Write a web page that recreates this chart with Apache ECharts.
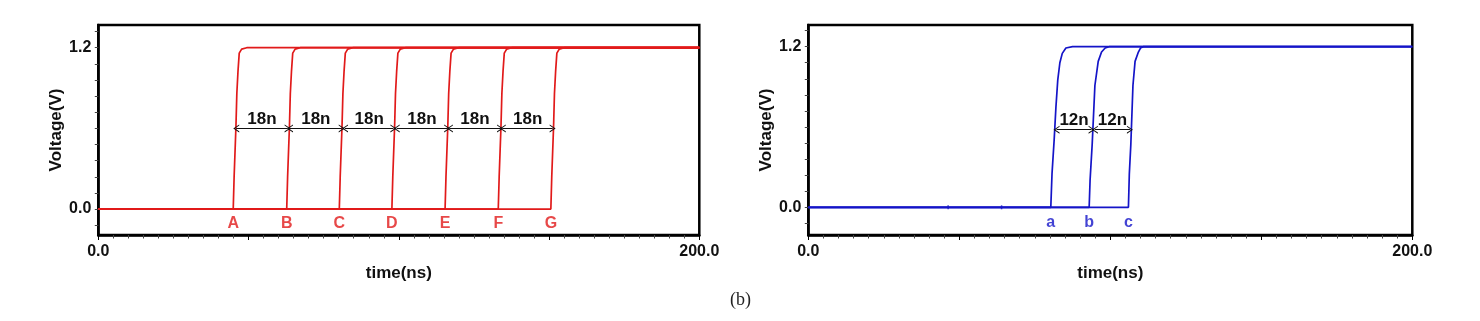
<!DOCTYPE html>
<html>
<head>
<meta charset="utf-8">
<script src="https://cdn.jsdelivr.net/npm/echarts@6/dist/echarts.min.js"></script>
<style>
  html, body { margin: 0; padding: 0; background: #fff; }
  #chart { width: 1480px; height: 321px; }
</style>
</head>
<body>
<div id="chart"></div>
<script>
// red traces (left panel), time in ns, voltage in V
const edgeA = [[0, 0], [44.9, 0], [45.2, 0.24], [45.8, 0.61], [46.1, 0.86], [46.5, 1.03], [46.9, 1.16], [47.7, 1.19], [49.4, 1.2], [200, 1.2]]
const edgeB = [[0, 0], [62.7, 0], [63.0, 0.24], [63.6, 0.61], [63.9, 0.86], [64.3, 1.03], [64.7, 1.16], [65.5, 1.19], [67.2, 1.2], [200, 1.2]]
const edgeC = [[0, 0], [80.2, 0], [80.5, 0.24], [81.1, 0.61], [81.4, 0.86], [81.8, 1.03], [82.2, 1.16], [83.0, 1.19], [84.7, 1.2], [200, 1.2]]
const edgeD = [[0, 0], [97.7, 0], [98.0, 0.24], [98.6, 0.61], [98.9, 0.86], [99.3, 1.03], [99.7, 1.16], [100.5, 1.19], [102.2, 1.2], [200, 1.2]]
const edgeE = [[0, 0], [115.4, 0], [115.7, 0.24], [116.3, 0.61], [116.6, 0.86], [117.0, 1.03], [117.4, 1.16], [118.2, 1.19], [119.9, 1.2], [200, 1.2]]
const edgeF = [[0, 0], [133.1, 0], [133.4, 0.24], [134.0, 0.61], [134.3, 0.86], [134.7, 1.03], [135.1, 1.16], [135.9, 1.19], [137.6, 1.2], [200, 1.2]]
const edgeG = [[0, 0], [150.6, 0], [150.9, 0.24], [151.5, 0.61], [151.8, 0.86], [152.2, 1.03], [152.6, 1.16], [153.4, 1.19], [155.1, 1.2], [200, 1.2]]

// blue traces (right panel)
const edge_a = [[0, 0], [80.3, 0], [80.7, 0.25], [81.4, 0.5], [82.0, 0.75], [82.6, 0.95], [83.3, 1.08], [84.1, 1.15], [85.3, 1.19], [87.5, 1.2], [200, 1.2]]
const edge_b = [[0, 0], [93.0, 0], [93.3, 0.2], [94.0, 0.47], [94.9, 0.91], [96.0, 1.09], [97.1, 1.16], [98.3, 1.19], [99.6, 1.2], [200, 1.2]]
const edge_c = [[0, 0], [106.0, 0], [106.3, 0.25], [106.8, 0.47], [107.5, 0.91], [108.2, 1.09], [109.3, 1.16], [110.0, 1.19], [110.9, 1.2], [200, 1.2]]
// little glitch marks on the blue baseline
const blueGlitches = [46.3, 64.0]

// edge markers and delay arrows
const redLetters = [[44.9, 'A'], [62.7, 'B'], [80.2, 'C'], [97.7, 'D'], [115.4, 'E'], [133.1, 'F'], [150.6, 'G']]
const blueLetters = [[80.3, 'a'], [93.0, 'b'], [106.0, 'c']]
const redArrows = [[45.9, 63.0], [63.8, 81.0], [82.1, 98.2], [99.3, 116.1], [117.0, 133.7], [134.6, 151.2]]
const blueArrows = [[82.2, 93.8], [94.9, 106.5]]
const redArrowV = 0.6
const blueArrowV = 0.58
const redArrowText = '18n'
const blueArrowText = '12n'

// axis ticks
const xLabelValues = [0, 200]
const yLabelValues = [0, 1.2]
const yTickValues = [-0.12, 0, 0.12, 0.24, 0.36, 0.48, 0.6, 0.72, 0.84, 0.96, 1.08, 1.2, 1.32]

const RED = '#e11a1a'
const BLUE = '#1414c8'
const FONT = 'Liberation Sans'
const chevron = 'path://M0,10 L5,0 L10,10 L8.6,10 L5,2.8 L1.4,10 Z'

function xAxisOf(gridIndex) {
  return {
    type: 'value',
    gridIndex: gridIndex,
    min: 0,
    max: 200,
    interval: 50,
    name: 'time(ns)',
    nameLocation: 'middle',
    nameGap: 19,
    nameTextStyle: { fontFamily: FONT, fontWeight: 'bold', fontSize: 17, color: '#111' },
    axisLine: { onZero: false, lineStyle: { color: '#000', width: 2.5 } },
    axisTick: { inside: false, length: 5, lineStyle: { color: '#000' } },
    minorTick: { show: true, splitNumber: 10, length: 3.5, lineStyle: { color: '#444' } },
    axisLabel: {
      customValues: xLabelValues,
      margin: 9,
      fontFamily: FONT, fontWeight: 'bold', fontSize: 16, color: '#111',
      formatter: v => v.toFixed(1)
    },
    splitLine: { show: false }
  }
}

function yAxisOf(gridIndex, min, max) {
  return {
    type: 'value',
    gridIndex: gridIndex,
    min: min,
    max: max,
    name: 'Voltage(V)',
    nameLocation: 'middle',
    nameGap: 30,
    nameTextStyle: { fontFamily: FONT, fontWeight: 'bold', fontSize: 17, color: '#111' },
    axisLine: { show: true, onZero: false, lineStyle: { color: '#000', width: 2.5 } },
    axisTick: { show: true, inside: false, customValues: yTickValues, length: 3.5, lineStyle: { color: '#444' } },
    axisLabel: {
      customValues: yLabelValues,
      margin: 7,
      fontFamily: FONT, fontWeight: 'bold', fontSize: 16, color: '#111',
      formatter: v => v.toFixed(1)
    },
    splitLine: { show: false }
  }
}

function traceOf(data, color, idx) {
  return {
    type: 'line',
    xAxisIndex: idx,
    yAxisIndex: idx,
    data: data,
    showSymbol: false,
    symbol: 'none',
    lineStyle: { color: color, width: 1.7 },
    silent: true,
    animation: false
  }
}

function lettersOf(list, color, idx) {
  return {
    type: 'scatter',
    xAxisIndex: idx,
    yAxisIndex: idx,
    symbolSize: 0,
    silent: true,
    animation: false,
    data: list.map(d => ({ value: [d[0], 0], name: d[1] })),
    label: {
      show: true,
      position: 'bottom',
      distance: 7,
      formatter: p => p.name,
      fontFamily: FONT, fontWeight: 'bold', fontSize: 16, color: color
    }
  }
}

function glitchesOf(list, color, idx) {
  return {
    type: 'scatter',
    xAxisIndex: idx,
    yAxisIndex: idx,
    symbol: 'rect',
    symbolSize: [1.5, 4],
    itemStyle: { color: color },
    silent: true,
    animation: false,
    data: list.map(t => [t, 0])
  }
}

function arrowsOf(list, v, text, idx) {
  return {
    type: 'line',
    xAxisIndex: idx,
    yAxisIndex: idx,
    data: [],
    silent: true,
    animation: false,
    markLine: {
      silent: true,
      animation: false,
      symbol: [chevron, chevron],
      symbolSize: [8, 6],
      lineStyle: { color: '#111', width: 1, type: 'solid' },
      label: {
        show: true,
        position: 'middle',
        distance: 1,
        formatter: text,
        fontFamily: FONT, fontWeight: 'bold', fontSize: 17, color: '#111'
      },
      data: list.map(s => [{ coord: [s[0], v] }, { coord: [s[1], v] }])
    }
  }
}

const chart = echarts.init(document.getElementById('chart'), null, { renderer: 'canvas' })
chart.setOption({
  backgroundColor: '#fff',
  animation: false,
  grid: [
    { left: 98.3, top: 25, width: 601, height: 210, show: true, borderColor: '#000', borderWidth: 2.5 },
    { left: 808.3, top: 25, width: 604, height: 210, show: true, borderColor: '#000', borderWidth: 2.5 }
  ],
  xAxis: [xAxisOf(0), xAxisOf(1)],
  yAxis: [yAxisOf(0, -0.193, 1.369), yAxisOf(1, -0.207, 1.362)],
  graphic: [{
    type: 'text',
    left: 730,
    top: 291,
    style: { text: '(b)', fontFamily: 'Liberation Serif', fontSize: 18, fill: '#222' }
  }],
  series: [
    traceOf(edgeA, RED, 0), traceOf(edgeB, RED, 0), traceOf(edgeC, RED, 0), traceOf(edgeD, RED, 0),
    traceOf(edgeE, RED, 0), traceOf(edgeF, RED, 0), traceOf(edgeG, RED, 0),
    traceOf(edge_a, BLUE, 1), traceOf(edge_b, BLUE, 1), traceOf(edge_c, BLUE, 1),
    glitchesOf(blueGlitches, BLUE, 1),
    lettersOf(redLetters, RED, 0),
    lettersOf(blueLetters, BLUE, 1),
    arrowsOf(redArrows, redArrowV, redArrowText, 0),
    arrowsOf(blueArrows, blueArrowV, blueArrowText, 1)
  ]
})
</script>
</body>
</html>
